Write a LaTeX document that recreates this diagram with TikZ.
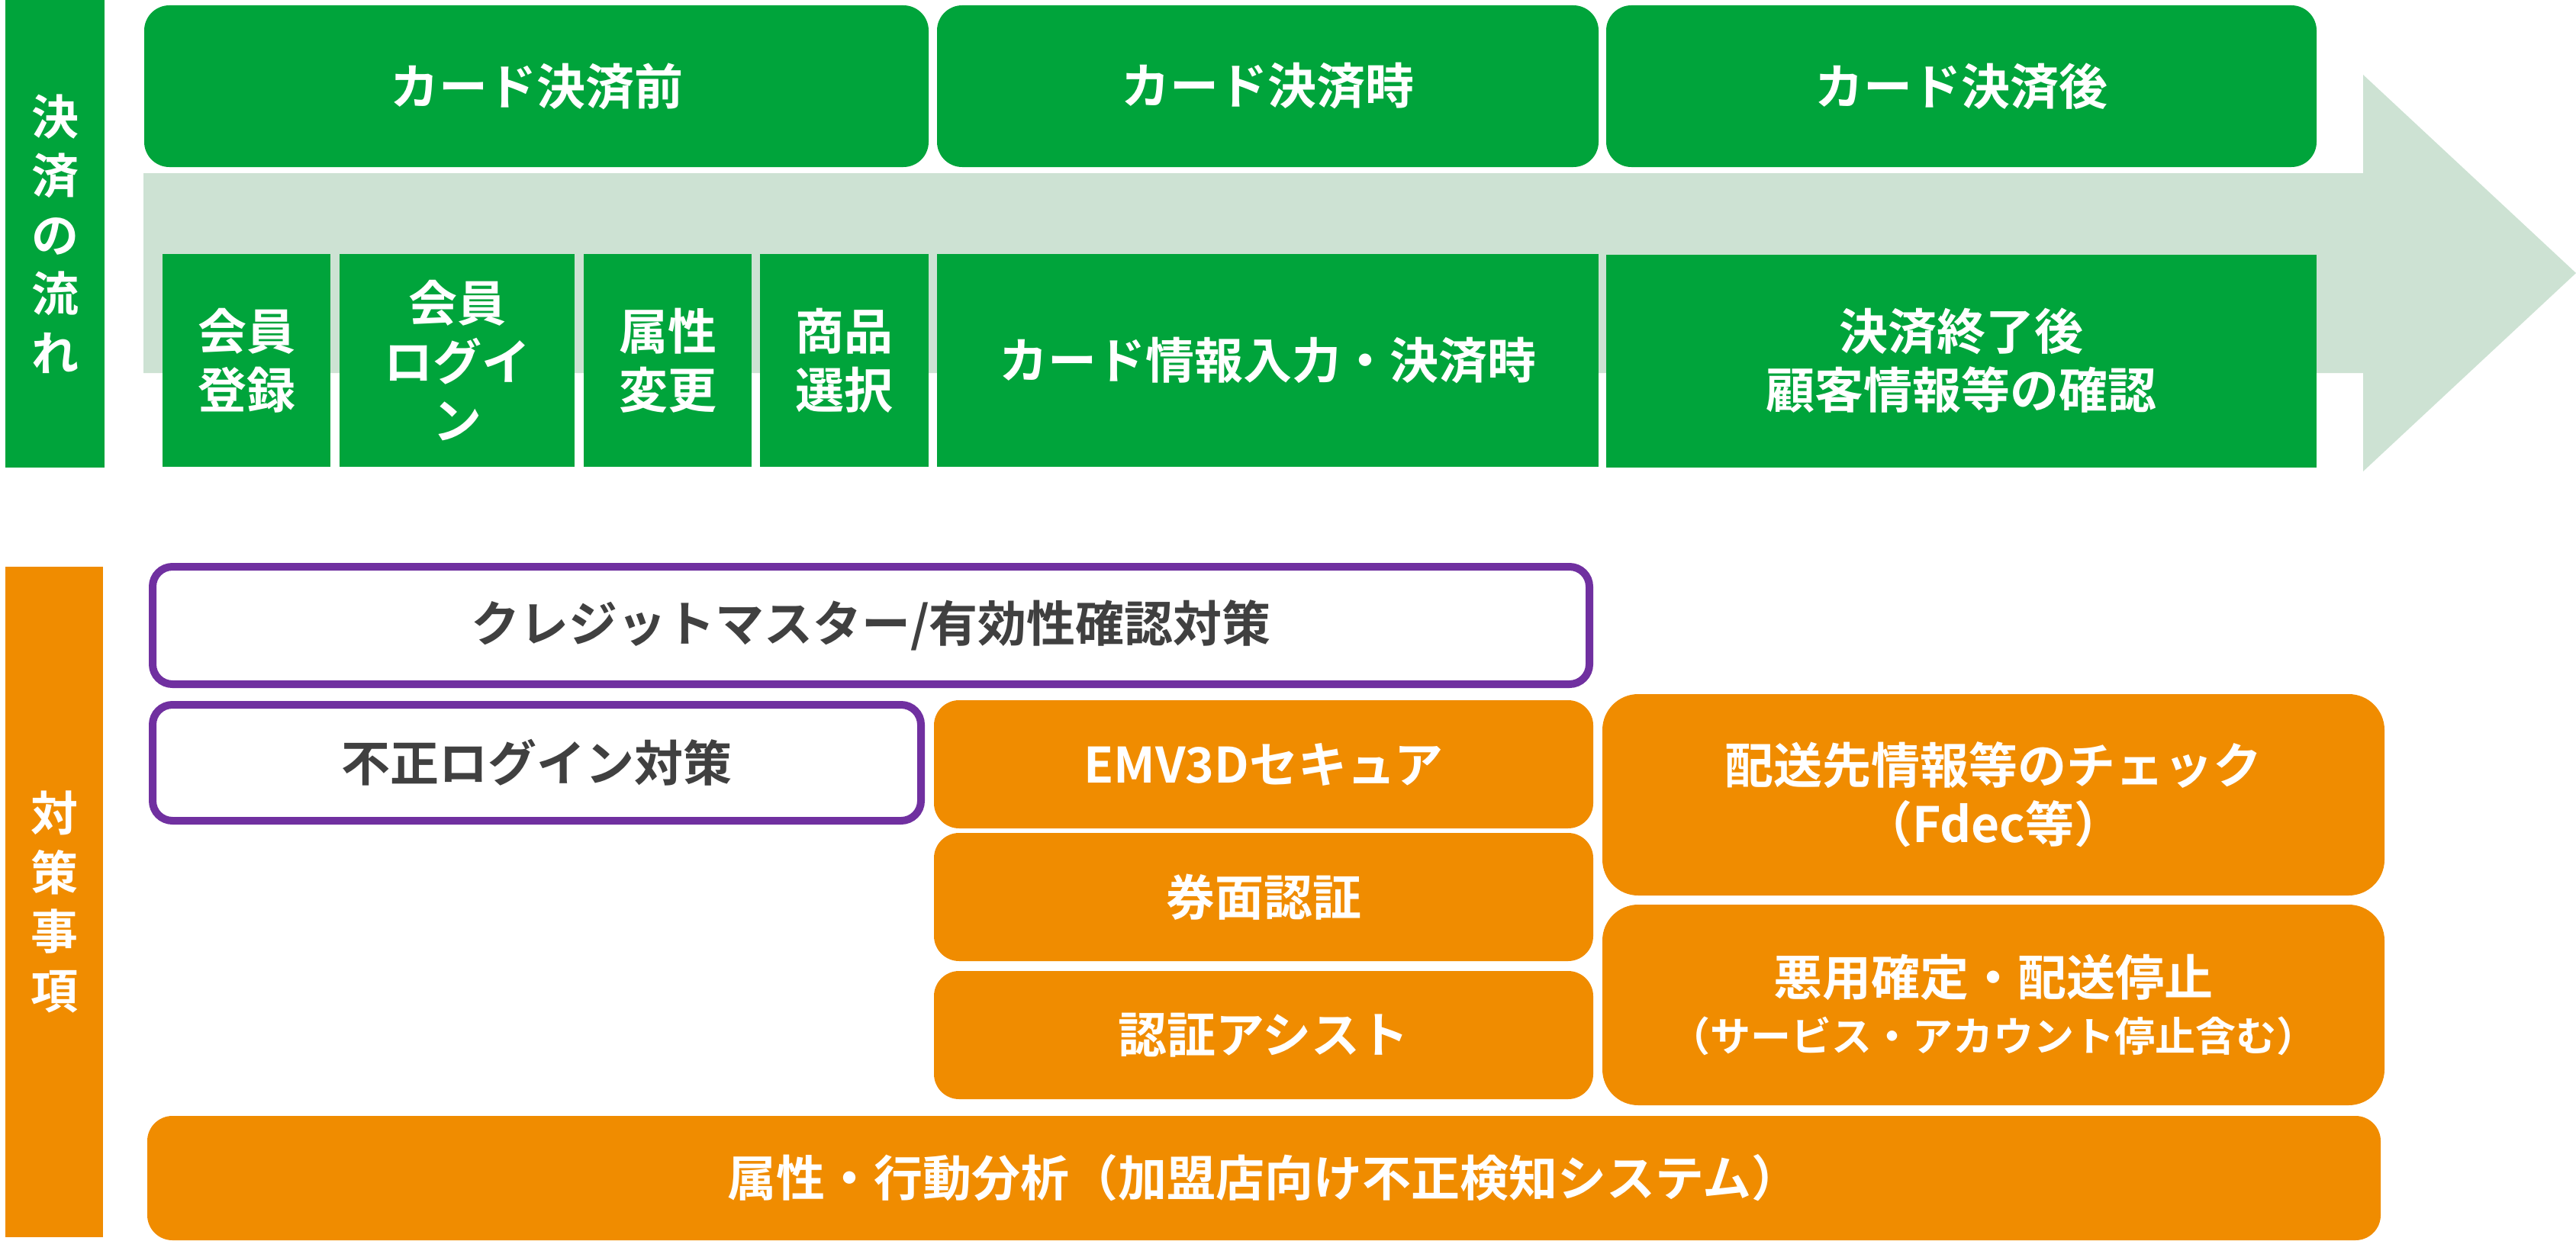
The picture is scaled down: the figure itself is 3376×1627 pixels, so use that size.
\documentclass[tikz,border=0pt]{standalone}
\usepackage{fontspec}
\setmainfont{Noto Sans CJK JP}[BoldFont={* Bold}]
\definecolor{pgreen}{HTML}{00A43B}
\definecolor{pband}{HTML}{CDE2D3}
\definecolor{porange}{HTML}{F08C00}
\definecolor{ppurple}{HTML}{7030A0}
\definecolor{tgray}{HTML}{404040}
\begin{document}
\begin{tikzpicture}[x=1pt,y=-1pt,
  base/.style={inner sep=0pt, outer sep=0pt, align=center, font=\bfseries\fontsize{64}{77}\selectfont},
  wh/.style 2 args={minimum width=#1, minimum height=#2},
  gbox/.style={base, fill=pgreen, text=white, rounded corners=33pt},
  gsq/.style={base, fill=pgreen, text=white},
  obox/.style={base, fill=porange, text=white, rounded corners=33pt},
  obig/.style={base, fill=porange, text=white, rounded corners=47pt},
  pbox/.style={base, draw=ppurple, line width=10pt, fill=white, text=tgray, rounded corners=26pt},
  sidebar/.style={base, text=white, font=\bfseries\fontsize{62}{77.5}\selectfont}]
\useasboundingbox (0,0) rectangle (3376,1627);
% flow arrow
\fill[pband] (188,227) -- (3097,227) -- (3097,98) -- (3376,358) -- (3097,618) -- (3097,489) -- (188,489) -- cycle;
% left bars
\node[sidebar, fill=pgreen, wh={130}{613}] (flow) at (72,306.5) {決\\済\\の\\流\\れ};
\node[sidebar, fill=porange, wh={128}{879}] (measures) at (71,1182.5) {対\\策\\事\\項};
% top phase boxes
\node[gbox, wh={1028}{212}] (before) at (703,113) {カード決済前};
\node[gbox, wh={867}{212}] (during) at (1661.5,113) {カード決済時};
\node[gbox, wh={931}{212}] (after) at (2570.5,113) {カード決済後};
% step boxes
\node[gsq, wh={220}{279}] (reg) at (323,472.5) {会員\\登録};
\node[gsq, wh={308}{279}] (login) at (599,472.5) {会員\\ログイ\\ン};
\node[gsq, wh={220}{279}] (attr) at (875,472.5) {属性\\変更};
\node[gsq, wh={221}{279}] (select) at (1106.5,472.5) {商品\\選択};
\node[gsq, wh={867}{279}] (input) at (1661.5,472.5) {カード情報入力・決済時};
\node[gsq, wh={931}{279}] (confirm) at (2570.5,473) {決済終了後\\顧客情報等の確認};
% measures
\node[pbox, wh={1883}{154}] (cm) at (1141.5,820) {クレジットマスター/有効性確認対策};
\node[pbox, wh={1007}{152}] (fl) at (703.5,1000) {不正ログイン対策};
\node[obox, wh={864}{168}] (emv) at (1656,1002) {EMV3Dセキュア};
\node[obox, wh={864}{168}] (card) at (1656,1176) {券面認証};
\node[obox, wh={864}{168}] (assist) at (1656,1357) {認証アシスト};
\node[obig, wh={1025}{264}] (ship) at (2612.5,1042) {配送先情報等のチェック\\（Fdec等）};
\node[obig, wh={1025}{263}] (stop) at (2612.5,1317.5) {悪用確定・配送停止\\[-4pt]{\fontsize{53}{62}\selectfont（サービス・アカウント停止含む）}};
\node[obox, wh={2927}{163}] (anal) at (1656.5,1544.5) {属性・行動分析（加盟店向け不正検知システム）};
\end{tikzpicture}
\end{document}
